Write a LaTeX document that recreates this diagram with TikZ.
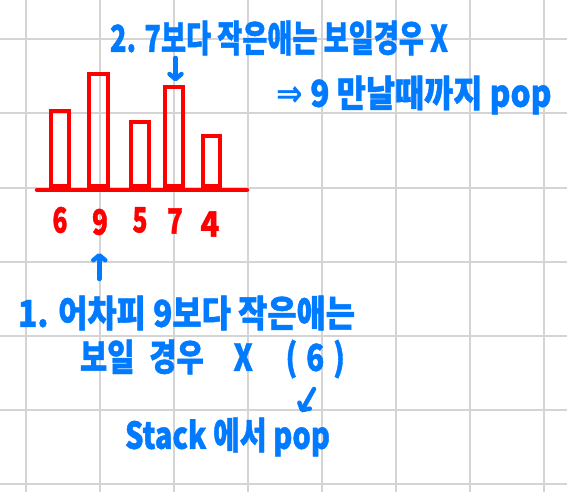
\documentclass[tikz,border=0pt]{standalone}
\usepackage{fontspec}
\usepackage{graphicx}
\usetikzlibrary{arrows.meta}
\newfontfamily\kr{Noto Sans CJK KR}[BoldFeatures={FakeBold=1.2}]
\newfontfamily\sym{DejaVu Sans}
\definecolor{inkblue}{RGB}{0,122,255}
\definecolor{inkred}{RGB}{255,0,0}
\definecolor{gridgray}{RGB}{212,212,212}
\newcommand\fitw[2]{\resizebox{#1}{\height}{#2}}
\begin{document}
\begin{tikzpicture}[x=1pt,y=-1pt,
  gridline/.style={draw=gridgray, line width=2pt},
  barbox/.style={draw=inkred, line width=4pt, inner sep=0pt, anchor=south},
  redline/.style={draw=inkred, line width=4.5pt, line cap=round},
  digit/.style={text=inkred, font=\kr\bfseries\fontsize{35}{35}\selectfont, inner sep=0pt},
  txt/.style={text=inkblue, font=\kr\bfseries\fontsize{37}{37}\selectfont, inner sep=0pt},
  arr/.style={draw=inkblue, line width=4.5pt, line cap=round,
    -{Straight Barb[length=5pt,width=12pt,round]}}]
\useasboundingbox (0,0) rectangle (567,492);
\fill[white] (0,0) rectangle (567,492);
\foreach \x in {26,100,...,544} \draw[gridline] (\x,0) -- (\x,492);
\foreach \y in {39.5,113.5,...,483.5} \draw[gridline] (0,\y) -- (567,\y);
% bars
\node[barbox, minimum width=17.7pt, minimum height=75.3pt] (b1) at (59.9,188) {};
\node[barbox, minimum width=18.7pt, minimum height=112pt] (b2) at (98.7,188) {};
\node[barbox, minimum width=17.4pt, minimum height=64.3pt] (b3) at (140,188) {};
\node[barbox, minimum width=17.7pt, minimum height=98.7pt] (b4) at (174.2,188) {};
\node[barbox, minimum width=17.3pt, minimum height=50pt] (b5) at (211.4,188) {};
\coordinate (basel) at (37,190);
\coordinate (baser) at (247,190);
\draw[redline] (basel) -- (baser);
% digits
\node[digit] (l6) at (60,220) {\fitw{15pt}{6}};
\node[digit] (l9) at (100,222) {\fitw{16pt}{9}};
\node[digit] (l5) at (140,220) {\fitw{15pt}{5}};
\node[digit] (l7) at (175,221) {\fitw{16pt}{7}};
\node[digit] (l4) at (210,224) {\fitw{19pt}{4}};
% texts
\node[txt] (t2) at (279,38) {\fitw{338pt}{2. 7보다 작은애는 보일경우 X}};
\node[txt] (t2b) at (414,95) {\fitw{275pt}{{\sym\bfseries ⇒} 9 만날때까지 pop}};
\node[txt] (t1a) at (186.5,313) {\fitw{337pt}{1. 어차피 9보다 작은애는}};
\node[txt] (t1b) at (212.5,359) {\fitw{265pt}{보일\hspace{0.5em}경우\hspace{1.0em}X\hspace{1.1em}(\hspace{0.3em}6\hspace{0.3em})}};
\node[txt] (t3) at (227.5,437) {\fitw{205pt}{Stack 에서 pop}};
% arrows
\coordinate (a1) at (175.5,58);
\draw[arr, shorten >=4pt] (a1) -- (a1 |- b4.north);
\coordinate (a2s) at (99.3,279);
\coordinate (a2e) at (99.3,253);
\draw[arr] (a2s) -- (a2e);
\coordinate (a3s) at (314,389);
\coordinate (a3e) at (301,412);
\draw[arr] (a3s) -- (a3e);
\end{tikzpicture}
\end{document}
